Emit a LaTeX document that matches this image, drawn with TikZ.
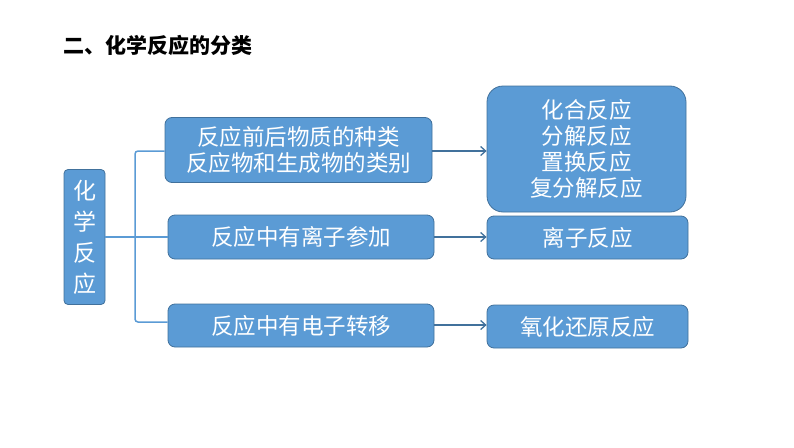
\documentclass[tikz,border=0pt]{standalone}
\usepackage{fontspec}
\newfontfamily\cjk{Noto Sans CJK SC}
\usetikzlibrary{positioning,arrows.meta}
\definecolor{boxfill}{HTML}{5B9BD5}
\definecolor{boxline}{HTML}{41719C}
\tikzset{
  kindbox/.style={draw=boxline,fill=boxfill,text=white,rounded corners=7pt,line width=0.8pt,
    font=\cjk\fontsize{22.5}{26}\selectfont,align=center,inner sep=0pt},
  flow/.style={draw=boxline,line width=1.3pt,-{Straight Barb[length=5pt,width=9pt]}},
  brace/.style={draw=boxfill,line width=1.5pt,rounded corners=3pt}
}
\begin{document}
\begin{tikzpicture}[x=1pt,y=-1pt]
  \useasboundingbox (0,0) rectangle (794,447);
  \node[anchor=west,font=\cjk\bfseries\fontsize{21}{24}\selectfont] (title) at (60,45) {二、化学反应的分类};
  % left
  \node[kindbox,minimum width=41pt,minimum height=135pt,rounded corners=4pt,text width=30pt,
    font=\cjk\fontsize{23}{31}\selectfont] (root) at (84.5,237) {化\\学\\反\\应};
  % conditions
  \node[kindbox,minimum width=267pt,minimum height=65pt] (c1) at (298.5,150) {反应前后物质的种类\\反应物和生成物的类别};
  \node[kindbox,minimum width=266pt,minimum height=44pt] (c2) at (301,237) {反应中有离子参加};
  \node[kindbox,minimum width=266pt,minimum height=43pt] (c3) at (301,325.5) {反应中有电子转移};
  % results
  \node[kindbox,minimum width=199pt,minimum height=126pt,rounded corners=16pt] (r1) at (586.5,149) {化合反应\\分解反应\\置换反应\\复分解反应};
  \node[kindbox,minimum width=201pt,minimum height=43pt] (r2) at (587.5,237.5) {离子反应};
  \node[kindbox,minimum width=201pt,minimum height=43pt] (r3) at (587.5,326.5) {氧化还原反应};
  % bracket
  \draw[brace] (root.east) -- (c2.west);
  \draw[brace] (c1.west|-0,151) -- (135,151) -- (135,322) -- (c3.west|-0,322);
  % arrows
  \draw[flow] (c1.east|-0,151) -- (r1.west|-0,151);
  \draw[flow] (c2.east) -- (r2.west|-c2.east);
  \draw[flow] (c3.east|-0,325) -- (r3.west|-0,325);
\end{tikzpicture}
\end{document}
